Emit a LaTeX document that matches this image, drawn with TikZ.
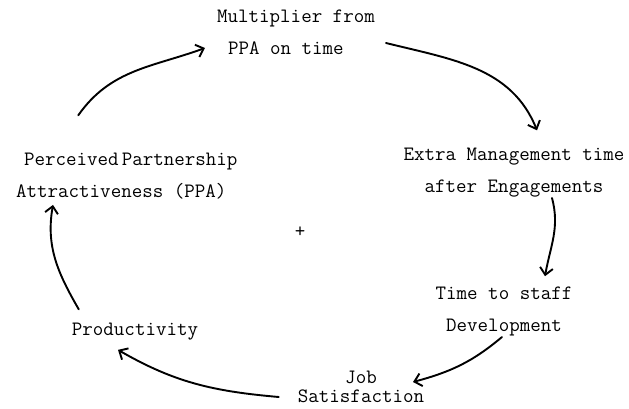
\documentclass[tikz,border=0pt]{standalone}
\usetikzlibrary{arrows.meta}
\begin{document}
\begin{tikzpicture}[x=1pt,y=1pt,
  lab/.style={inner sep=0pt, font=\ttfamily\fontsize{20.4}{32}\selectfont},
  labtight/.style={inner sep=0pt, font=\ttfamily\fontsize{20.4}{19}\selectfont},
  arr/.style={line width=1.9pt, line cap=round, -{Straight Barb[length=7pt,width=13pt]}}]
\useasboundingbox (0,0) rectangle (629,409);
\node[lab, anchor=base west, align=left] (mult) at (217,354)
  {Multiplier from\\\hspace*{11pt}PPA on time};
\node[lab, anchor=base west, align=left] (ppa) at (16,211)
  {\hspace*{8pt}Perceived\hspace{3pt}Partnership\\Attractiveness (PPA)};
\node[lab, anchor=base, align=center] (extra) at (514,216)
  {Extra Management time\\after Engagements};
\node[lab, anchor=base, align=center] (dev) at (504,77)
  {Time to staff\\Development};
\node[labtight, anchor=base, align=center] (job) at (361,6)
  {Job\\Satisfaction};
\node[lab, anchor=base] (prod) at (135,73) {Productivity};
\node[lab] (plus) at (300,177) {+};
\draw[arr] ([xshift=-48.5pt,yshift=38pt]ppa.north) to[out=55,in=200]
  ([xshift=-12pt,yshift=7pt]mult.base west);
\draw[arr] ([xshift=11pt,yshift=12pt]mult.base east) to[out=-14,in=112]
  ([xshift=23pt,yshift=18pt]extra.north);
\draw[arr] ([xshift=38pt,yshift=-5pt]extra.base) to[out=-75,in=80]
  ([xshift=41pt,yshift=11pt]dev.north);
\draw[arr] ([xshift=-2pt,yshift=-5pt]dev.base) to[out=220,in=15]
  ([xshift=52pt,yshift=21pt]job.base);
\draw[arr] ([xshift=-19pt,yshift=6pt]job.base west) to[out=175,in=-30]
  ([xshift=-17pt,yshift=-9pt]prod.south);
\draw[arr] ([xshift=7pt,yshift=14pt]prod.north west) to[out=120,in=-100]
  ([xshift=37pt,yshift=-5pt]ppa.south west);
\end{tikzpicture}
\end{document}
